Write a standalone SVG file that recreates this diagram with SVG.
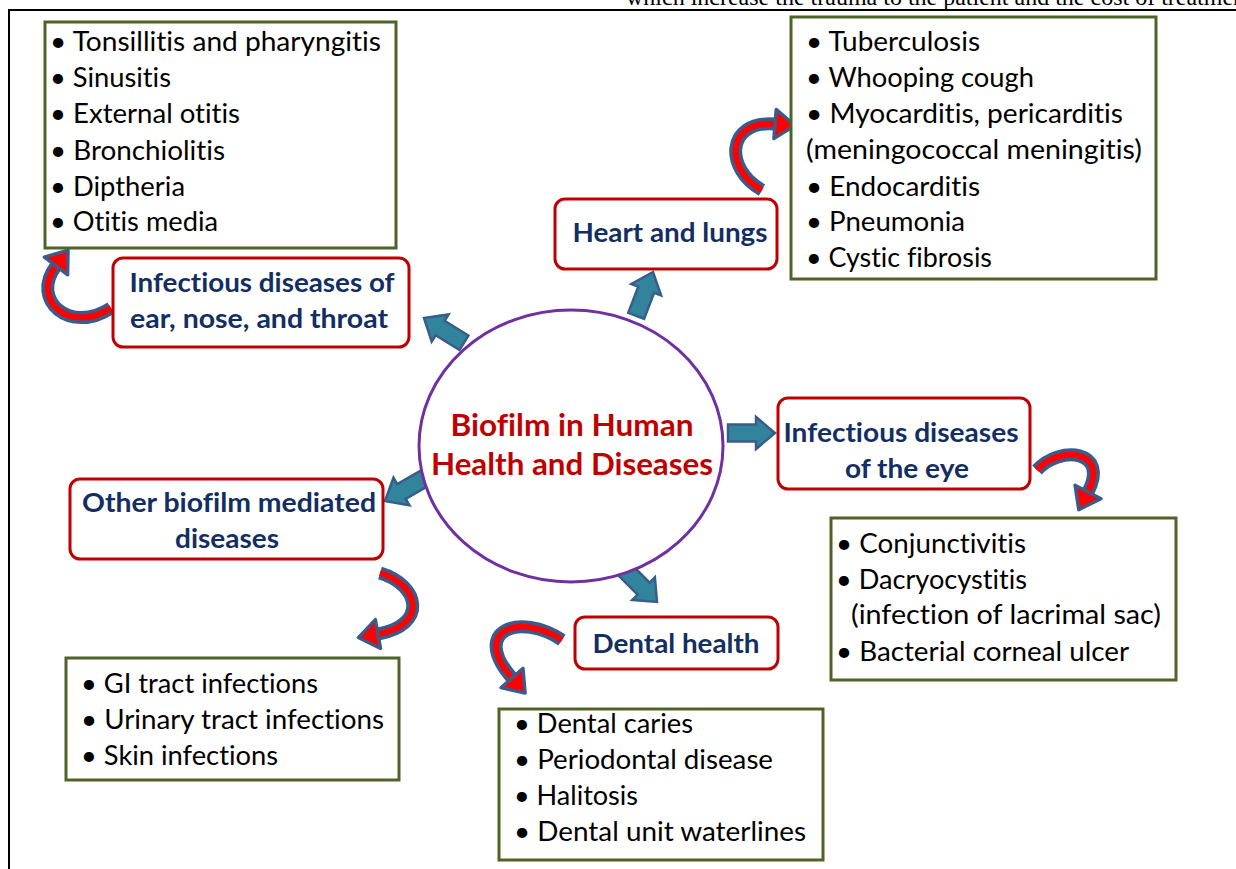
<svg xmlns="http://www.w3.org/2000/svg" xmlns:xlink="http://www.w3.org/1999/xlink" width="1236" height="869" viewBox="0 0 1236 869">
<defs>
<style>
text{font-variant-ligatures:none}
.red{fill:#fff;stroke:#C00000;stroke-width:3}
.grn{fill:#fff;stroke:#4F6228;stroke-width:3}
.li{font-family:Lato,"Open Sans",sans-serif;font-size:26px;fill:#000}
.hd{font-family:Lato,"Open Sans",sans-serif;font-size:26px;font-weight:bold;fill:#132E62;text-anchor:middle}
.ct{font-family:Lato,"Open Sans",sans-serif;font-size:30px;font-weight:bold;fill:#C00000;text-anchor:middle}
.ba{fill:#31849B;stroke:#385D8A;stroke-width:2.5;stroke-linejoin:miter}
.co{fill:none;stroke:#3B5C8A;stroke-width:13}
.ci{fill:none;stroke:#FF0000;stroke-width:6;marker-end:url(#head)}
</style>
<polygon id="barrow" class="ba" points="-47,-8.5 -19,-8.5 -19,-16 0,0 -19,16 -19,8.5 -47,8.5"/>
<marker id="head" markerUnits="userSpaceOnUse" orient="auto" refX="0" refY="0" markerWidth="40" markerHeight="40" viewBox="-5 -15 25 30" overflow="visible">
<path d="M0,-11 L15,0 L0,11 Z" fill="#FF0000" stroke="#3B5C8A" stroke-width="2.5" stroke-linejoin="round"/>
</marker>
</defs>
<rect width="1236" height="869" fill="#fff"/>
<g id="page">
<text x="626" y="5" font-family="Liberation Serif,serif" font-size="24" fill="#000">which increase the trauma to the patient and the cost of treatment</text>
<line x1="9" y1="10" x2="1236" y2="10" stroke="#000" stroke-width="2"/>
<line x1="9" y1="9" x2="9" y2="869" stroke="#000" stroke-width="2"/>
</g>
<g id="connectors">
<use xlink:href="#barrow" transform="translate(424,318) rotate(211.8)"/>
<use xlink:href="#barrow" transform="translate(653,272) rotate(-69)"/>
<use xlink:href="#barrow" transform="translate(775,433)"/>
<use xlink:href="#barrow" transform="translate(385,501) rotate(150)"/>
<use xlink:href="#barrow" transform="translate(657,602) rotate(45)"/>
<path class="co" d="M111,308 C70,335 30,300 56,266"/>
<path class="ci" d="M111,308 C70,335 30,300 56,266"/>
<path class="co" d="M762,190 C725,170 725,120 775,124"/>
<path class="ci" d="M762,190 C725,170 725,120 775,124"/>
<path class="co" d="M1037,470 C1060,445 1110,450 1088,492"/>
<path class="ci" d="M1037,470 C1060,445 1110,450 1088,492"/>
<path class="co" d="M380,573 C420,585 428,625 378,634"/>
<path class="ci" d="M380,573 C420,585 428,625 378,634"/>
<path class="co" d="M562,640 C520,612 470,630 512,678"/>
<path class="ci" d="M562,640 C520,612 470,630 512,678"/>
</g>
<g id="center">
<ellipse cx="571" cy="446" rx="152" ry="136" fill="#fff" stroke="#7030A0" stroke-width="3"/>
<text class="ct" x="572" y="436" textLength="243" lengthAdjust="spacingAndGlyphs">Biofilm in Human</text>
<text class="ct" x="572" y="475" textLength="282" lengthAdjust="spacingAndGlyphs">Health and Diseases</text>
</g>
<g id="ent">
<rect class="red" x="113" y="258" width="296" height="89" rx="10"/>
<text class="hd" x="262" y="292" textLength="265" lengthAdjust="spacingAndGlyphs">Infectious diseases of</text>
<text class="hd" x="259" y="328" textLength="258" lengthAdjust="spacingAndGlyphs">ear, nose, and throat</text>
</g>
<g id="heart">
<rect class="red" x="555" y="199" width="222" height="70" rx="10"/>
<text class="hd" x="670" y="242" textLength="195" lengthAdjust="spacingAndGlyphs">Heart and lungs</text>
</g>
<g id="eye">
<rect class="red" x="778" y="398" width="252" height="91" rx="10"/>
<text class="hd" x="901" y="442" textLength="235" lengthAdjust="spacingAndGlyphs">Infectious diseases</text>
<text class="hd" x="907" y="478" textLength="124" lengthAdjust="spacingAndGlyphs">of the eye</text>
</g>
<g id="other">
<rect class="red" x="70" y="479" width="313" height="80" rx="10"/>
<text class="hd" x="229" y="512" textLength="294" lengthAdjust="spacingAndGlyphs">Other biofilm mediated</text>
<text class="hd" x="227" y="548" textLength="104" lengthAdjust="spacingAndGlyphs">diseases</text>
</g>
<g id="dental">
<rect class="red" x="575" y="617" width="203" height="52" rx="10"/>
<text class="hd" x="676" y="653" textLength="167" lengthAdjust="spacingAndGlyphs">Dental health</text>
</g>
<g id="list-ent">
<rect class="grn" x="45" y="22" width="351" height="226"/>
<text class="li" x="50" y="51" textLength="331" lengthAdjust="spacingAndGlyphs">• Tonsillitis and pharyngitis</text>
<text class="li" x="50" y="87" textLength="121" lengthAdjust="spacingAndGlyphs">• Sinusitis</text>
<text class="li" x="50" y="123" textLength="190" lengthAdjust="spacingAndGlyphs">• External otitis</text>
<text class="li" x="50" y="160" textLength="175" lengthAdjust="spacingAndGlyphs">• Bronchiolitis</text>
<text class="li" x="50" y="196" textLength="135" lengthAdjust="spacingAndGlyphs">• Diptheria</text>
<text class="li" x="50" y="231" textLength="168" lengthAdjust="spacingAndGlyphs">• Otitis media</text>
</g>
<g id="list-heart">
<rect class="grn" x="791" y="17" width="365" height="262"/>
<text class="li" x="806" y="51" textLength="174" lengthAdjust="spacingAndGlyphs">• Tuberculosis</text>
<text class="li" x="806" y="87" textLength="228" lengthAdjust="spacingAndGlyphs">• Whooping cough</text>
<text class="li" x="806" y="123" textLength="317" lengthAdjust="spacingAndGlyphs">• Myocarditis, pericarditis</text>
<text class="li" x="806" y="159" textLength="336" lengthAdjust="spacingAndGlyphs">(meningococcal meningitis)</text>
<text class="li" x="806" y="196" textLength="174" lengthAdjust="spacingAndGlyphs">• Endocarditis</text>
<text class="li" x="806" y="231" textLength="159" lengthAdjust="spacingAndGlyphs">• Pneumonia</text>
<text class="li" x="806" y="267" textLength="186" lengthAdjust="spacingAndGlyphs">• Cystic fibrosis</text>
</g>
<g id="list-eye">
<rect class="grn" x="831" y="518" width="345" height="162"/>
<text class="li" x="836" y="553" textLength="190" lengthAdjust="spacingAndGlyphs">• Conjunctivitis</text>
<text class="li" x="836" y="589" textLength="191" lengthAdjust="spacingAndGlyphs">• Dacryocystitis</text>
<text class="li" x="851" y="624" textLength="310" lengthAdjust="spacingAndGlyphs">(infection of lacrimal sac)</text>
<text class="li" x="836" y="661" textLength="293" lengthAdjust="spacingAndGlyphs">• Bacterial corneal ulcer</text>
</g>
<g id="list-other">
<rect class="grn" x="66" y="658" width="333" height="122"/>
<text class="li" x="81" y="693" textLength="237" lengthAdjust="spacingAndGlyphs">• GI tract infections</text>
<text class="li" x="81" y="729" textLength="303" lengthAdjust="spacingAndGlyphs">• Urinary tract infections</text>
<text class="li" x="81" y="765" textLength="197" lengthAdjust="spacingAndGlyphs">• Skin infections</text>
</g>
<g id="list-dental">
<rect class="grn" x="499" y="709" width="324" height="151"/>
<text class="li" x="514" y="733" textLength="179" lengthAdjust="spacingAndGlyphs">• Dental caries</text>
<text class="li" x="514" y="769" textLength="259" lengthAdjust="spacingAndGlyphs">• Periodontal disease</text>
<text class="li" x="514" y="805" textLength="124" lengthAdjust="spacingAndGlyphs">• Halitosis</text>
<text class="li" x="514" y="841" textLength="292" lengthAdjust="spacingAndGlyphs">• Dental unit waterlines</text>
</g>
</svg>
